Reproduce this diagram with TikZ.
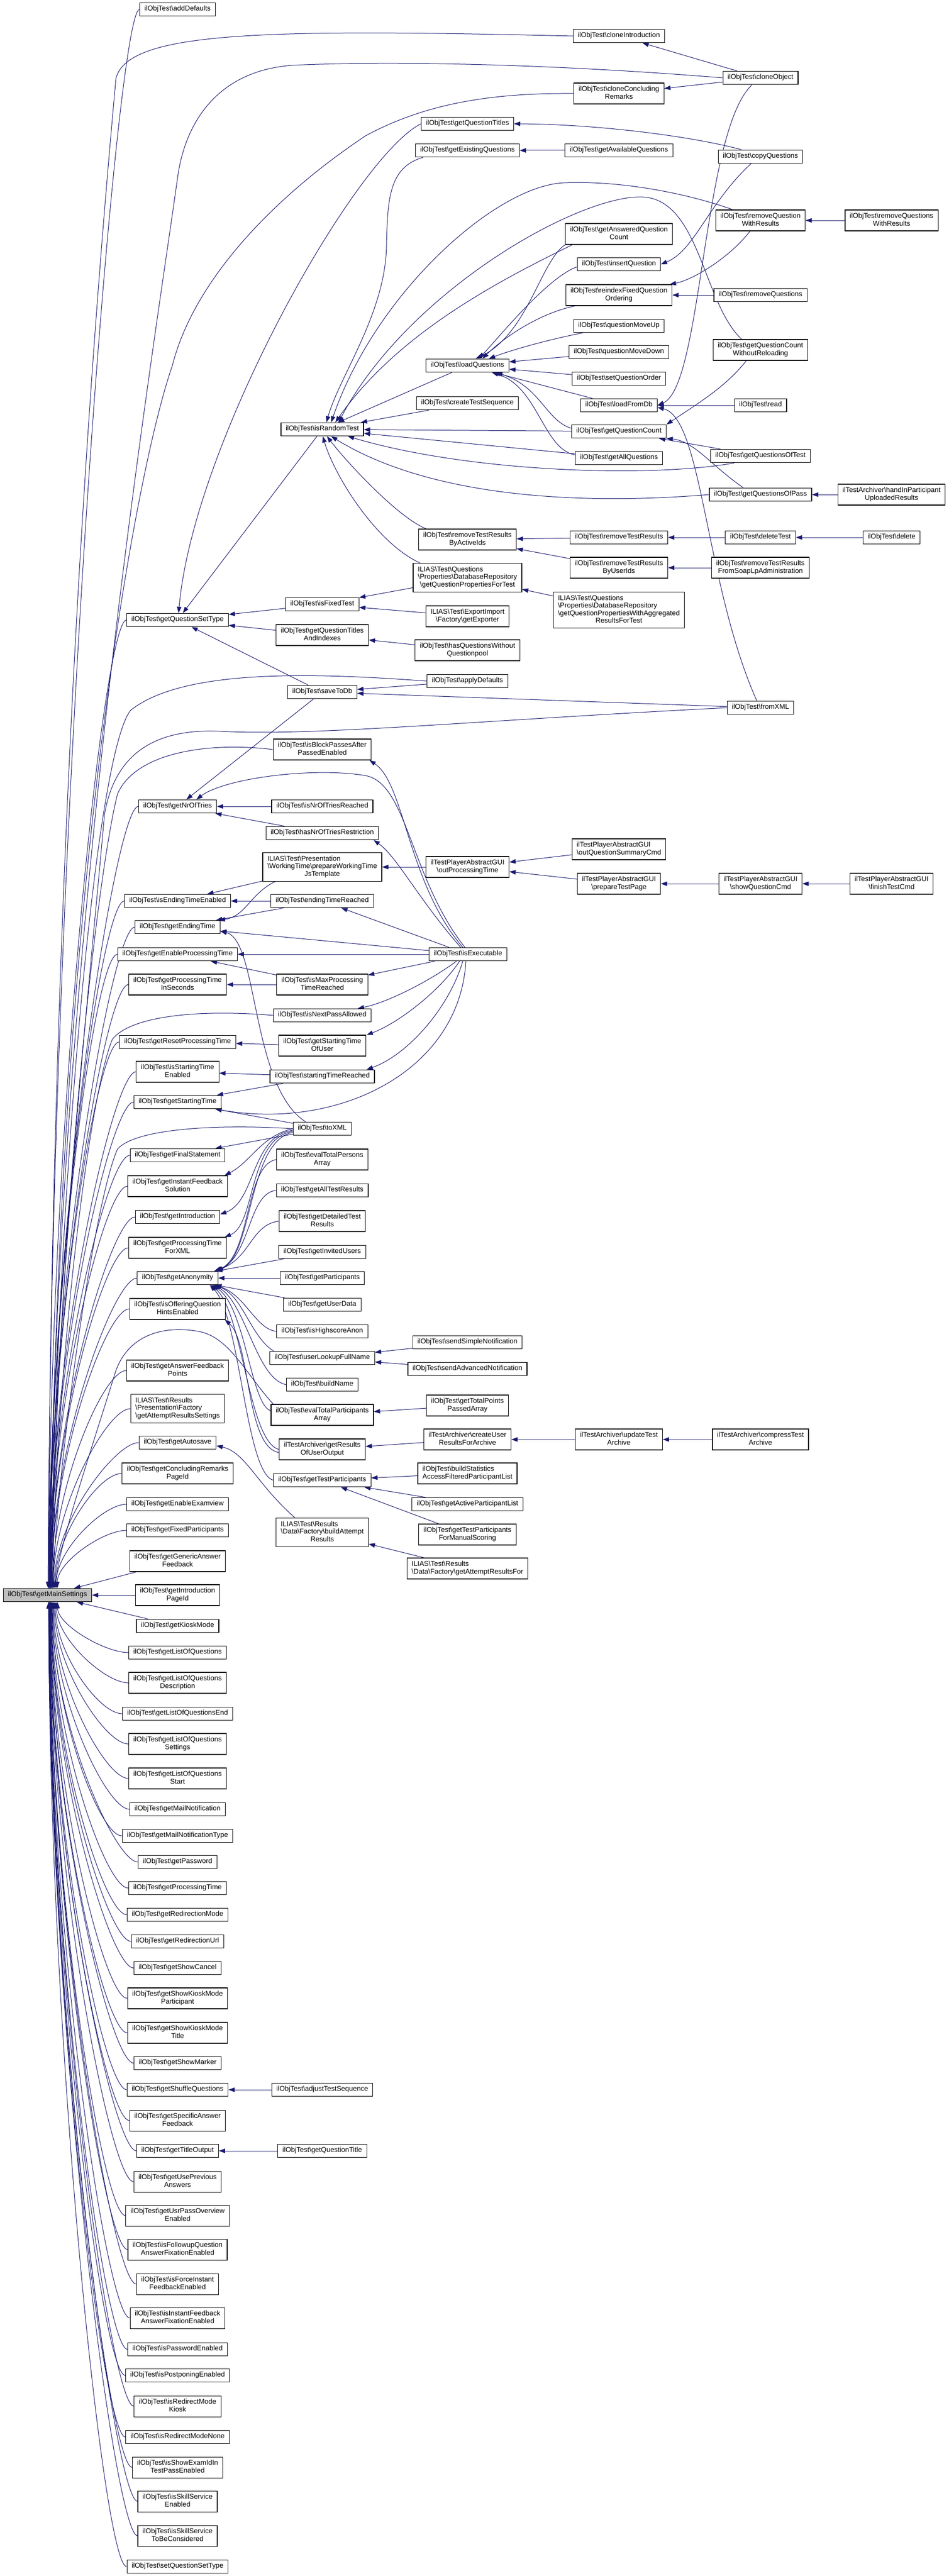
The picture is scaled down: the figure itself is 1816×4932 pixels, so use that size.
\documentclass[tikz,border=0pt]{standalone}
\usepackage{fontspec}
\setmainfont{Liberation Sans}
\usetikzlibrary{arrows.meta}
\definecolor{eblue}{HTML}{191970}
\definecolor{msgray}{HTML}{BFBFBF}
\newcommand{\fnt}{\fontsize{13.4}{14.5}\selectfont}
\newcommand{\ob}{ilObjTest\textbackslash}
\newcommand{\bs}{\textbackslash}
\newcommand{\one}[1]{\begin{tabular}{@{}c@{}}#1\end{tabular}}
\newcommand{\two}[2]{\begin{tabular}{@{}l@{}}#1\\\multicolumn{1}{@{}c@{}}{#2}\end{tabular}}
\newcommand{\bx}[4]{\node[box] (#1) at (#2,#3) {#4};}
\pgfdeclarelayer{bg}
\pgfsetlayers{bg,main}
\begin{document}
\begin{tikzpicture}[x=1pt,y=-1pt,
  box/.style={draw=black,line width=1.1pt,fill=white,inner xsep=9pt,inner ysep=5.5pt,font=\fnt},
  e/.style={draw=eblue,line width=1pt,-{Triangle[length=12pt,width=8.5pt]}}]
\useasboundingbox (0,0) rectangle (1816,4932);

% ---------- column 0
\node[box,fill=msgray] (ms) at (91,3054) {\one{\ob getMainSettings}};

% ---------- column 1
\bx{ad}{340}{18}{\one{\ob addDefaults}}
\bx{gqst}{340}{1187}{\one{\ob getQuestionSetType}}
\bx{gnot}{340}{1544}{\one{\ob getNrOfTries}}
\bx{iete}{340}{1725}{\one{\ob isEndingTimeEnabled}}
\bx{get}{340}{1775}{\one{\ob getEndingTime}}
\bx{gept}{340}{1827}{\one{\ob getEnableProcessingTime}}
\bx{gptis}{340}{1885}{\two{\ob getProcessingTime}{InSeconds}}
\bx{grpt}{340}{1995}{\one{\ob getResetProcessingTime}}
\bx{iste}{340}{2052}{\two{\ob isStartingTime}{Enabled}}
\bx{gst}{340}{2110}{\one{\ob getStartingTime}}
\bx{gfs}{340}{2212}{\one{\ob getFinalStatement}}
\bx{gifs}{340}{2271}{\two{\ob getInstantFeedback}{Solution}}
\bx{gi}{340}{2330}{\one{\ob getIntroduction}}
\bx{gptfx}{340}{2389}{\two{\ob getProcessingTime}{ForXML}}
\bx{ga}{340}{2447}{\one{\ob getAnonymity}}
\bx{ioqhe}{340}{2506}{\two{\ob isOfferingQuestion}{HintsEnabled}}
\bx{gafp}{340}{2624}{\two{\ob getAnswerFeedback}{Points}}
\bx{gars}{340}{2697}{\two{ILIAS\bs Test\bs Results\\\bs Presentation\bs Factory}{\bs getAttemptResultsSettings}}
\bx{gas}{340}{2762}{\one{\ob getAutosave}}
\bx{gcrp}{340}{2821}{\two{\ob getConcludingRemarks}{PageId}}
\bx{gee}{340}{2880}{\one{\ob getEnableExamview}}
\bx{gfp}{340}{2930}{\one{\ob getFixedParticipants}}
\bx{gaf}{340}{2989}{\two{\ob getGenericAnswer}{Feedback}}
\bx{gipi}{340}{3054}{\two{\ob getIntroduction}{PageId}}
\bx{gkm}{340}{3113}{\one{\ob getKioskMode}}
\bx{gloq}{340}{3164}{\one{\ob getListOfQuestions}}
\bx{gloqd}{340}{3222}{\two{\ob getListOfQuestions}{Description}}
\bx{gloqe}{340}{3281}{\one{\ob getListOfQuestionsEnd}}
\bx{gloqs}{340}{3339}{\two{\ob getListOfQuestions}{Settings}}
\bx{gloqst}{340}{3405}{\two{\ob getListOfQuestions}{Start}}
\bx{gmn}{340}{3464}{\one{\ob getMailNotification}}
\bx{gmnt}{340}{3515}{\one{\ob getMailNotificationType}}
\bx{gpw}{340}{3565}{\one{\ob getPassword}}
\bx{gpt}{340}{3615}{\one{\ob getProcessingTime}}
\bx{grm}{340}{3666}{\one{\ob getRedirectionMode}}
\bx{gru}{340}{3717}{\one{\ob getRedirectionUrl}}
\bx{gsc}{340}{3768}{\one{\ob getShowCancel}}
\bx{gskp}{340}{3826}{\two{\ob getShowKioskMode}{Participant}}
\bx{gskt}{340}{3892}{\two{\ob getShowKioskMode}{Title}}
\bx{gsm}{340}{3950}{\one{\ob getShowMarker}}
\bx{gsq}{340}{4001}{\one{\ob getShuffleQuestions}}
\bx{gsaf}{340}{4060}{\two{\ob getSpecificAnswer}{Feedback}}
\bx{gto}{340}{4118}{\one{\ob getTitleOutput}}
\bx{gupa}{340}{4177}{\two{\ob getUsePrevious}{Answers}}
\bx{gupoe}{340}{4242}{\two{\ob getUsrPassOverview}{Enabled}}
\bx{ifqafe}{340}{4307}{\two{\ob isFollowupQuestion}{AnswerFixationEnabled}}
\bx{ifife}{340}{4373}{\two{\ob isForceInstant}{FeedbackEnabled}}
\bx{iifafe}{340}{4438}{\two{\ob isInstantFeedback}{AnswerFixationEnabled}}
\bx{ipe}{340}{4498}{\one{\ob isPasswordEnabled}}
\bx{ippe}{340}{4548}{\one{\ob isPostponingEnabled}}
\bx{irmk}{340}{4607}{\two{\ob isRedirectMode}{Kiosk}}
\bx{irmn}{340}{4666}{\one{\ob isRedirectModeNone}}
\bx{iseit}{340}{4724}{\two{\ob isShowExamIdIn}{TestPassEnabled}}
\bx{isse}{340}{4789}{\two{\ob isSkillService}{Enabled}}
\bx{isstbc}{340}{4855}{\two{\ob isSkillService}{ToBeConsidered}}
\bx{sqst}{340}{4914}{\one{\ob setQuestionSetType}}

% ---------- column 2
\bx{irt}{617}{822}{\one{\ob isRandomTest}}
\bx{ift}{617}{1157}{\one{\ob isFixedTest}}
\bx{gqtai}{617}{1216}{\two{\ob getQuestionTitles}{AndIndexes}}
\bx{std}{617}{1325}{\one{\ob saveToDb}}
\bx{ibpap}{617}{1435}{\two{\ob isBlockPassesAfter}{PassedEnabled}}
\bx{inotr}{617}{1544}{\one{\ob isNrOfTriesReached}}
\bx{hntr}{617}{1595}{\one{\ob hasNrOfTriesRestriction}}
\bx{pwtjt}{617}{1660}{\two{ILIAS\bs Test\bs Presentation\\\bs WorkingTime\bs prepareWorkingTime}{JsTemplate}}
\bx{etr}{617}{1725}{\one{\ob endingTimeReached}}
\bx{imptr}{617}{1885}{\two{\ob isMaxProcessing}{TimeReached}}
\bx{inpa}{617}{1944}{\one{\ob isNextPassAllowed}}
\bx{gstou}{617}{2002}{\two{\ob getStartingTime}{OfUser}}
\bx{str}{617}{2061}{\one{\ob startingTimeReached}}
\bx{tx}{617}{2161}{\one{\ob toXML}}
\bx{etpa}{617}{2220}{\two{\ob evalTotalPersons}{Array}}
\bx{gatr}{617}{2279}{\one{\ob getAllTestResults}}
\bx{gdtr}{617}{2338}{\two{\ob getDetailedTest}{Results}}
\bx{giu}{617}{2397}{\one{\ob getInvitedUsers}}
\bx{gpart}{617}{2447}{\one{\ob getParticipants}}
\bx{gud}{617}{2498}{\one{\ob getUserData}}
\bx{iha}{617}{2549}{\one{\ob isHighscoreAnon}}
\bx{ulfn}{617}{2600}{\one{\ob userLookupFullName}}
\bx{bn}{617}{2651}{\one{\ob buildName}}
\bx{etpta}{617}{2709}{\two{\ob evalTotalParticipants}{Array}}
\bx{groo}{617}{2775}{\two{ilTestArchiver\bs getResults}{OfUserOutput}}
\bx{gtp}{617}{2834}{\one{\ob getTestParticipants}}
\bx{bar}{617}{2934}{\two{ILIAS\bs Test\bs Results\\\bs Data\bs Factory\bs buildAttempt}{Results}}
\bx{ats}{617}{4001}{\one{\ob adjustTestSequence}}
\bx{gqtl}{617}{4118}{\one{\ob getQuestionTitle}}

% ---------- column 3
\bx{gqt}{895}{237}{\one{\ob getQuestionTitles}}
\bx{geq}{895}{288}{\one{\ob getExistingQuestions}}
\bx{lq}{895}{700}{\one{\ob loadQuestions}}
\bx{cts}{895}{772}{\one{\ob createTestSequence}}
\bx{rtrbai}{895}{1033}{\two{\ob removeTestResults}{ByActiveIds}}
\bx{gqpft}{895}{1106}{\two{ILIAS\bs Test\bs Questions\\\bs Properties\bs DatabaseRepository}{\bs getQuestionPropertiesForTest}}
\bx{gexp}{895}{1180}{\two{ILIAS\bs Test\bs ExportImport}{\bs Factory\bs getExporter}}
\bx{hqwq}{895}{1245}{\two{\ob hasQuestionsWithout}{Questionpool}}
\bx{adf}{895}{1304}{\one{\ob applyDefaults}}
\bx{opt}{895}{1660}{\two{ilTestPlayerAbstractGUI}{\bs outProcessingTime}}
\bx{ie}{896}{1827}{\one{\ob isExecutable}}
\bx{ssn}{895}{2570}{\one{\ob sendSimpleNotification}}
\bx{san}{895}{2621}{\one{\ob sendAdvancedNotification}}
\bx{gtppa}{895}{2691}{\two{\ob getTotalPoints}{PassedArray}}
\bx{cura}{895}{2756}{\two{ilTestArchiver\bs createUser}{ResultsForArchive}}
\bx{bsafpl}{895}{2821}{\two{\ob buildStatistics}{AccessFilteredParticipantList}}
\bx{gapl}{895}{2880}{\one{\ob getActiveParticipantList}}
\bx{gtpfms}{895}{2938}{\two{\ob getTestParticipants}{ForManualScoring}}
\bx{garf}{895}{3003}{\two{ILIAS\bs Test\bs Results}{\bs Data\bs Factory\bs getAttemptResultsFor}}

% ---------- column 4
\bx{ci}{1185}{69}{\one{\ob cloneIntroduction}}
\bx{ccr}{1185}{179}{\two{\ob cloneConcluding}{Remarks}}
\bx{gavq}{1185}{288}{\one{\ob getAvailableQuestions}}
\bx{gaqc}{1185}{448}{\two{\ob getAnsweredQuestion}{Count}}
\bx{iq}{1185}{506}{\one{\ob insertQuestion}}
\bx{rfqo}{1185}{565}{\two{\ob reindexFixedQuestion}{Ordering}}
\bx{qmu}{1185}{624}{\one{\ob questionMoveUp}}
\bx{qmd}{1185}{674}{\one{\ob questionMoveDown}}
\bx{sqo}{1185}{725}{\one{\ob setQuestionOrder}}
\bx{lfd}{1185}{776}{\one{\ob loadFromDb}}
\bx{gqc}{1185}{826}{\one{\ob getQuestionCount}}
\bx{gallq}{1185}{877}{\one{\ob getAllQuestions}}
\bx{rtr}{1185}{1029}{\one{\ob removeTestResults}}
\bx{rtrbui}{1185}{1087}{\two{\ob removeTestResults}{ByUserIds}}
\bx{gqpwa}{1185}{1168}{\two{ILIAS\bs Test\bs Questions\\\bs Properties\bs DatabaseRepository\\\bs getQuestionPropertiesWithAggregated}{ResultsForTest}}
\bx{oqsc}{1185}{1626}{\two{ilTestPlayerAbstractGUI}{\bs outQuestionSummaryCmd}}
\bx{ptp}{1185}{1692}{\two{ilTestPlayerAbstractGUI}{\bs prepareTestPage}}
\bx{uta}{1185}{2756}{\two{ilTestArchiver\bs updateTest}{Archive}}

% ---------- column 5
\bx{co}{1456}{149}{\one{\ob cloneObject}}
\bx{cq}{1456}{300}{\one{\ob copyQuestions}}
\bx{rqwr}{1456}{422}{\two{\ob removeQuestion}{WithResults}}
\bx{rq}{1456}{565}{\one{\ob removeQuestions}}
\bx{gqcwr}{1456}{670}{\two{\ob getQuestionCount}{WithoutReloading}}
\bx{rd}{1456}{776}{\one{\ob read}}
\bx{gqot}{1456}{873}{\one{\ob getQuestionsOfTest}}
\bx{gqop}{1456}{947}{\one{\ob getQuestionsOfPass}}
\bx{dt}{1456}{1029}{\one{\ob deleteTest}}
\bx{rtrfs}{1456}{1087}{\two{\ob removeTestResults}{FromSoapLpAdministration}}
\bx{fx}{1456}{1355}{\one{\ob fromXML}}
\bx{sqc}{1456}{1692}{\two{ilTestPlayerAbstractGUI}{\bs showQuestionCmd}}
\bx{cta}{1456}{2756}{\two{ilTestArchiver\bs compressTest}{Archive}}

% ---------- column 6
\bx{rqswr}{1707}{422}{\two{\ob removeQuestions}{WithResults}}
\bx{hipur}{1707}{947}{\two{ilTestArchiver\bs handInParticipant}{UploadedResults}}
\bx{del}{1707}{1029}{\one{\ob delete}}
\bx{ftc}{1707}{1692}{\two{ilTestPlayerAbstractGUI}{\bs finishTestCmd}}

\begin{pgfonlayer}{bg}
\fill[white] (0,0) rectangle (1816,4932);
% ---- column 1 to getMainSettings
\foreach \nn/\yy in {ad/18,gqst/1187,gnot/1544,iete/1725,get/1775,gept/1827,gptis/1885,grpt/1995,iste/2052,gst/2110,gfs/2212,gifs/2271,gi/2330,gptfx/2389,ga/2447,ioqhe/2506,gafp/2624,gars/2697,gas/2762,gcrp/2821,gee/2880,gfp/2930}{
  \pgfmathsetmacro\dd{3041-\yy}
  \pgfmathsetmacro\sh{2+22*exp(-\dd/400)}
  \pgfmathsetmacro\cc{-0.45*\dd}
  \draw[e] (\nn.west) .. controls +(-45,0) and +(0,\cc) .. ([xshift=\sh]ms.north);
}
\foreach \nn/\yy in {gloq/3164,gloqd/3222,gloqe/3281,gloqs/3339,gloqst/3405,gmn/3464,gmnt/3515,gpw/3565,gpt/3615,grm/3666,gru/3717,gsc/3768,gskp/3826,gskt/3892,gsm/3950,gsq/4001,gsaf/4060,gto/4118,gupa/4177,gupoe/4242,ifqafe/4307,ifife/4373,iifafe/4438,ipe/4498,ippe/4548,irmk/4607,irmn/4666,iseit/4724,isse/4789,isstbc/4855,sqst/4914}{
  \pgfmathsetmacro\dd{\yy-3067}
  \pgfmathsetmacro\sh{2+22*exp(-\dd/400)}
  \pgfmathsetmacro\cc{0.45*\dd}
  \draw[e] (\nn.west) .. controls +(-45,0) and +(0,\cc) .. ([xshift=\sh]ms.south);
}
\draw[e] (gaf) -- (ms);
\draw[e] (gipi) -- (ms);
\draw[e] (gkm) -- (ms);

% ---- long edges to getMainSettings
\draw[e] (ci.west) .. controls (500,55) and (245,60) .. (222,150) .. controls (195,450) and (100,1500) .. ([xshift=1]ms.north);
\draw[e] (co.west) .. controls (1000,118) and (700,118) .. (560,125) .. controls (420,135) and (355,230) .. (340,340) .. controls (290,700) and (110,1800) .. ([xshift=3]ms.north);
\draw[e] (ccr.west) .. controls (950,178) and (820,195) .. (700,260) .. controls (520,380) and (370,540) .. (330,700) .. controls (260,900) and (110,1700) .. ([xshift=5]ms.north);
\draw[e] (adf.west) .. controls (600,1288) and (350,1280) .. (250,1360) .. controls (180,1450) and (110,2300) .. ([xshift=6]ms.north);
\draw[e] (fx.west) .. controls (900,1380) and (600,1410) .. (420,1400) .. controls (300,1395) and (220,1440) .. (200,1560) .. controls (170,1900) and (105,2500) .. ([xshift=7]ms.north);
\draw[e] (ibpap.west) .. controls (400,1420) and (260,1440) .. (225,1520) .. controls (180,1700) and (110,2400) .. ([xshift=8]ms.north);
\draw[e] (inpa.west) .. controls (380,1932) and (250,1945) .. (215,1990) .. controls (170,2100) and (110,2600) .. ([xshift=9]ms.north);
\draw[e] (tx.west) .. controls (420,2152) and (260,2160) .. (225,2200) .. controls (180,2300) and (110,2800) .. ([xshift=10]ms.north);
\draw[e] ([xshift=5]etpta.north west) .. controls (470,2630) and (440,2560) .. (380,2549) .. controls (300,2535) and (240,2565) .. (220,2630) .. controls (180,2760) and (115,2950) .. ([xshift=14]ms.north);

% ---- top region
\draw[e] (co) -- (ci);
\draw[e] (co) -- (ccr);
\draw[e] ([xshift=-16]co.south) .. controls (1345,250) and (1345,740) .. (lfd.east);
\draw[e] ([xshift=-7]fx.north) .. controls (1350,1120) and (1345,800) .. ([yshift=-4]lfd.east);
\draw[e] ([xshift=-36]cq.north) .. controls (1330,262) and (1150,238) .. (gqt.east);
\draw[e] ([xshift=-18]cq.south) .. controls (1355,390) and (1330,480) .. (iq.east);
\draw[e] (gavq) -- (geq);
\draw[e] (rqswr) -- (rqwr);
\draw[e] ([xshift=-20]rqwr.south) .. controls (1400,490) and (1330,535) .. ([xshift=-5]rfqo.north east);
\draw[e] (rq) -- (rfqo);
\draw[e] ([xshift=-53]rqwr.north) .. controls (1330,375) and (1200,345) .. (1080,350) .. controls (950,355) and (720,560) .. ([xshift=17]irt.north);
\draw[e] ([xshift=-36]gqcwr.north) .. controls (1345,580) and (1340,377) .. (1226,377) .. controls (1100,377) and (780,560) .. ([xshift=31]irt.north);
\draw[e] ([xshift=-89]gaqc.south) .. controls (950,540) and (760,640) .. ([xshift=25]irt.north);
\draw[e] ([xshift=-85]geq.south) .. controls (745,320) and (742,380) .. (740,470) .. controls (738,600) and (650,720) .. ([xshift=8]irt.north);
\draw[e] ([xshift=-103]gaqc.south) .. controls (1035,500) and (1010,640) .. ([xshift=-64]lq.north east);
\draw[e] ([yshift=-5]iq.west) .. controls (1050,530) and (960,640) .. ([xshift=-58]lq.north east);
\draw[e] ([xshift=-83]rfqo.south) .. controls (1030,600) and (960,650) .. ([xshift=-51]lq.north east);
\draw[e] ([xshift=-69]qmu.south) .. controls (1050,650) and (980,670) .. ([xshift=-39]lq.north east);
\draw[e] (qmd) -- (lq);
\draw[e] (sqo) -- (lq);
\draw[e] (lfd) -- (lq);
\draw[e] ([yshift=6]gqc.west) .. controls (1045,805) and (1035,740) .. ([xshift=-25]lq.south east);
\draw[e] ([yshift=6]gallq.west) .. controls (1040,860) and (1030,740) .. ([xshift=-33]lq.south east);
\draw[e] (lq) -- (irt);
\draw[e] (cts) -- (irt);
\draw[e] (gqc) -- (irt);
\draw[e] (gallq) -- (irt);
\draw[e] ([xshift=-50]gqot.south) .. controls (1250,915) and (900,905) .. ([xshift=49]irt.south);
\draw[e] (gqop.west) .. controls (1100,968) and (820,950) .. ([xshift=17]irt.south);
\draw[e] ([xshift=-79]rtrbai.north) .. controls (760,990) and (660,880) .. ([xshift=9]irt.south);
\draw[e] ([xshift=-90]gqpft.north) .. controls (720,1040) and (640,910) .. ([xshift=1]irt.south);
\draw[e] (rd) -- (lfd);
\draw[e] ([xshift=-27]gqcwr.south) .. controls (1390,740) and (1340,770) .. (gqc.north east);
\draw[e] (gqot) -- (gqc);
\draw[e] ([xshift=-33]gqop.north) .. controls (1360,890) and (1330,845) .. (gqc.south east);
\draw[e] (hipur) -- (gqop);
\draw[e] (rtr) -- (rtrbai);
\draw[e] (rtrbui) -- (rtrbai);
\draw[e] (dt) -- (rtr);
\draw[e] (del) -- (dt);
\draw[e] (rtrfs) -- (rtrbui);
\draw[e] (gqpwa) -- (gqpft);
\draw[e] (gqt.west) .. controls (680,300) and (370,850) .. ([xshift=2]gqst.north);
\draw[e] (irt) -- (gqst);
\draw[e] (ift) -- (gqst);
\draw[e] (gqtai) -- (gqst);
\draw[e] (std) -- (gqst);
\draw[e] (gqpft) -- (ift);
\draw[e] (gexp) -- (ift);
\draw[e] (hqwq) -- (gqtai);
\draw[e] (adf) -- (std);
\draw[e] (fx) -- (std);

% ---- timing region
\draw[e] (std) -- (gnot);
\draw[e] (inotr) -- (gnot);
\draw[e] (hntr) -- (gnot);
\draw[e] (oqsc) -- (opt);
\draw[e] (ptp) -- (opt);
\draw[e] (sqc) -- (ptp);
\draw[e] (ftc) -- (sqc);
\draw[e] (opt) -- (pwtjt);
\draw[e] (pwtjt) -- (iete);
\draw[e] ([xshift=-90]pwtjt.south) .. controls (480,1710) and (470,1755) .. ([xshift=-3]get.north east);
\draw[e] (etr) -- (iete);
\draw[e] (etr) -- (get);
\draw[e] (ie) -- (etr);
\draw[e] (ie) -- (get);
\draw[e] (ie) -- (gept);
\draw[e] (ie) -- (imptr);
\draw[e] (imptr) -- (gept);
\draw[e] (imptr) -- (gptis);
\draw[e] ([xshift=-22]ie.south) .. controls (820,1880) and (740,1920) .. ([xshift=68]inpa.north);
\draw[e] ([xshift=-16]ie.south) .. controls (840,1900) and (760,1960) .. ([xshift=85]gstou.north);
\draw[e] ([xshift=-10]ie.south) .. controls (860,1930) and (780,2020) .. ([xshift=85]str.north);
\draw[e] ([xshift=-4]ie.south) .. controls (880,2050) and (650,2165) .. ([xshift=-12]gst.south east);
\draw[e] ([xshift=-10]ie.north) .. controls (780,1690) and (775,1500) .. ([xshift=-4]ibpap.south east);
\draw[e] ([xshift=-6]ie.north) .. controls (785,1680) and (780,1500) .. (700,1485) .. controls (600,1468) and (430,1490) .. ([xshift=36]gnot.north);
\draw[e] ([xshift=-14]ie.north) .. controls (800,1720) and (760,1640) .. ([xshift=-10]hntr.south east);
\draw[e] (gstou) -- (grpt);
\draw[e] (str) -- (iste);
\draw[e] (str) -- (gst);
\draw[e] (tx) -- (gst);
\draw[e] (tx) -- (gfs);
\draw[e] ([xshift=-32]tx.north) .. controls (480,2080) and (495,1800) .. ([yshift=-8]get.east);
\draw[e] (tx.west) .. controls (500,2175) and (480,2225) .. ([xshift=-6]gifs.north east);
\draw[e] ([yshift=-3]tx.west) .. controls (480,2175) and (490,2300) .. ([yshift=5]gi.east);
\draw[e] ([yshift=-5]tx.west) .. controls (475,2180) and (490,2345) .. ([xshift=-4]gptfx.north east);
\draw[e] ([yshift=-7]tx.west) .. controls (475,2185) and (485,2400) .. ([xshift=-2]ga.north east);

% ---- anonymity / participants region
\draw[e] (etpa.west) .. controls (470,2230) and (480,2400) .. ([xshift=-4]ga.north east);
\draw[e] (gatr.west) .. controls (475,2285) and (480,2405) .. ([xshift=-6]ga.north east);
\draw[e] (gdtr.west) .. controls (480,2345) and (480,2410) .. ([xshift=-8]ga.north east);
\draw[e] (giu) -- (ga);
\draw[e] (gpart) -- (ga);
\draw[e] (gud) -- (ga);
\draw[e] (iha.west) .. controls (490,2545) and (470,2480) .. ([xshift=-6]ga.south east);
\draw[e] ([xshift=8]ulfn.north west) .. controls (480,2560) and (465,2480) .. ([xshift=-8]ga.south east);
\draw[e] (bn.west) .. controls (490,2640) and (470,2490) .. ([xshift=-10]ga.south east);
\draw[e] ([yshift=8]etpta.west) .. controls (480,2690) and (470,2500) .. ([xshift=-12]ga.south east);
\draw[e] (groo.west) .. controls (475,2760) and (465,2510) .. ([xshift=-14]ga.south east);
\draw[e] (gtp.west) .. controls (470,2820) and (460,2520) .. ([xshift=-16]ga.south east);
\draw[e] ([yshift=-6]groo.west) .. controls (470,2770) and (480,2570) .. ([xshift=-2]ioqhe.south east);
\draw[e] ([xshift=-52]bar.north) .. controls (490,2840) and (470,2780) .. ([yshift=-6]gas.east);
\draw[e] (ssn) -- (ulfn);
\draw[e] (san) -- (ulfn);
\draw[e] (gtppa) -- (etpta);
\draw[e] (cura) -- (groo);
\draw[e] (uta) -- (cura);
\draw[e] (cta) -- (uta);
\draw[e] (bsafpl) -- (gtp);
\draw[e] (gapl) -- (gtp);
\draw[e] (gtpfms) -- (gtp);
\draw[e] (garf) -- (bar);
\draw[e] (ats) -- (gsq);
\draw[e] (gqtl) -- (gto);
\end{pgfonlayer}
\end{tikzpicture}
\end{document}
